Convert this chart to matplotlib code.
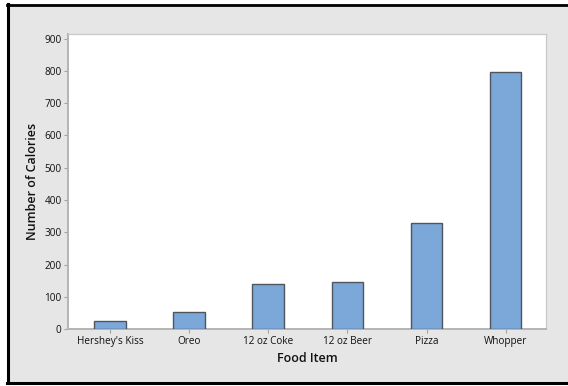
import matplotlib
matplotlib.use("Agg")
import matplotlib.pyplot as plt
from matplotlib.patches import Rectangle
from matplotlib.lines import Line2D

categories = ["Hershey's Kiss", "Oreo", "12 oz Coke", "12 oz Beer", "Pizza", "Whopper"]
calories = [25, 53, 141, 145, 329, 796]
y_ticks = [0, 100, 200, 300, 400, 500, 600, 700, 800, 900]

plt.rcParams['font.family'] = ['Open Sans', 'DejaVu Sans']

W, H = 568, 386
fig = plt.figure(figsize=(W / 100, H / 100), dpi=100)
fig.patch.set_facecolor('white')

def fx(px):
    return px / W

def fy(py):
    return 1 - py / H

# gray panel background
fig.patches.append(Rectangle((fx(9), fy(382)), fx(568) - fx(9), fy(5) - fy(382),
                             transform=fig.transFigure, facecolor='#e6e6e6',
                             edgecolor='none', zorder=-10))
# black frame lines (left, top, bottom)
for xs, ys, lw in [([8, 8], [4, 383], 2.2), ([7, 568], [5, 5], 2.0), ([7, 568], [382.5, 382.5], 2.2)]:
    fig.lines.append(Line2D([fx(v) for v in xs], [fy(v) for v in ys], transform=fig.transFigure,
                            color='black', linewidth=lw, zorder=-5))

ax = fig.add_axes([fx(68), fy(329.3), fx(546) - fx(68), fy(34) - fy(329.3)])
ax.set_zorder(1)
ax.set_facecolor('white')
x = list(range(len(categories)))
ax.bar(x, calories, width=0.4, color='#7ba7d9', edgecolor='#50555d', linewidth=1.0, zorder=3)

ax.set_xlim(-0.53, 5.51)
ax.set_ylim(0, 914)
ax.set_yticks(y_ticks)
ax.set_yticklabels([str(v) for v in y_ticks])
ax.set_xticks(x)
ax.set_xticklabels(categories)

for side in ['top', 'right']:
    ax.spines[side].set_color('#c8c8c8')
    ax.spines[side].set_linewidth(0.9)
for side in ['left', 'bottom']:
    ax.spines[side].set_color('#b4b4b4')
    ax.spines[side].set_linewidth(1.4)

ax.tick_params(axis='both', direction='out', length=3, width=0.8, color='#a0a0a0',
               labelsize=7.2, labelcolor='#111111', pad=1.5)

ax.set_xlabel('Food Item', fontsize=9, fontweight='semibold', color='#111111', labelpad=4)
ax.set_ylabel('Number of Calories', fontsize=9, fontweight='semibold', color='#111111', labelpad=4)

fig.savefig('out.png', dpi=100, facecolor=fig.get_facecolor())
